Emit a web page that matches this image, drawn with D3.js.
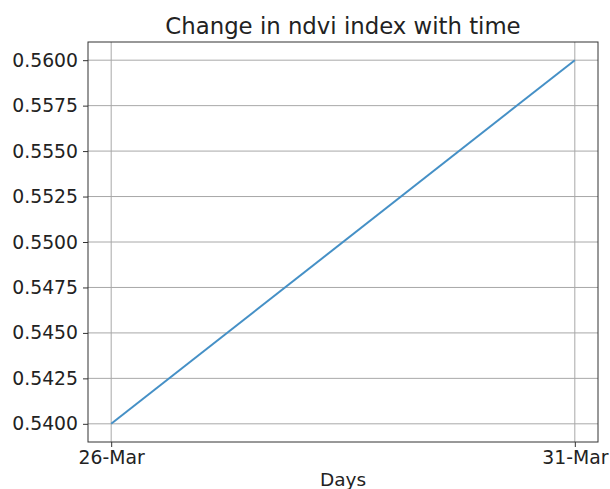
<!DOCTYPE html>
<html>
<head>
<meta charset="utf-8">
<script src="https://cdn.jsdelivr.net/npm/d3@7"></script>
<style>
  body { margin: 0; background: #fff; }
  text { font-family: "DejaVu Sans", sans-serif; fill: #222; }
</style>
</head>
<body>
<svg id="chart" width="610" height="489"></svg>
<script>
const days = ["26-Mar", "31-Mar"];
const dayIndex = [0, 5];
const ndvi = [0.54, 0.56];
const yTicks = [0.5400, 0.5425, 0.5450, 0.5475, 0.5500, 0.5525, 0.5550, 0.5575, 0.5600];

const width = 610, height = 489;
const margin = { top: 42, right: 12, bottom: 47, left: 88 };

const svg = d3.select("#chart");

// matplotlib style 5% padding around the data
const xPad = (dayIndex[1] - dayIndex[0]) * 0.05;
const yPad = (d3.max(ndvi) - d3.min(ndvi)) * 0.05;

const x = d3.scaleLinear()
  .domain([dayIndex[0] - xPad, dayIndex[1] + xPad])
  .range([margin.left, width - margin.right]);

const y = d3.scaleLinear()
  .domain([d3.min(ndvi) - yPad, d3.max(ndvi) + yPad])
  .range([height - margin.bottom, margin.top]);

const g = svg.append("g");

// grid
g.append("g")
  .attr("stroke", "#a8a8a8")
  .attr("stroke-width", 1)
  .selectAll("line.h")
  .data(yTicks)
  .join("line")
  .attr("x1", margin.left).attr("x2", width - margin.right)
  .attr("y1", d => y(d)).attr("y2", d => y(d));

g.append("g")
  .attr("stroke", "#a8a8a8")
  .attr("stroke-width", 1)
  .selectAll("line.v")
  .data(dayIndex)
  .join("line")
  .attr("y1", margin.top).attr("y2", height - margin.bottom)
  .attr("x1", d => x(d)).attr("x2", d => x(d));

// line
const pts = dayIndex.map((d, i) => [d, ndvi[i]]);
g.append("path")
  .datum(pts)
  .attr("fill", "none")
  .attr("stroke", "#4590c6")
  .attr("stroke-width", 2)
  .attr("d", d3.line().x(d => x(d[0])).y(d => y(d[1])));

// axes
const yAxis = d3.axisLeft(y).tickValues(yTicks).tickFormat(d3.format(".4f")).tickSize(5).tickPadding(5);
const xAxis = d3.axisBottom(x).tickValues(dayIndex).tickFormat((d, i) => days[i]).tickSize(5).tickPadding(4);

const ya = svg.append("g")
  .attr("transform", `translate(${margin.left},0)`)
  .call(yAxis);
const xa = svg.append("g")
  .attr("transform", `translate(0,${height - margin.bottom})`)
  .call(xAxis);

[ya, xa].forEach(a => {
  a.select(".domain").remove();
  a.selectAll(".tick line").attr("stroke", "#333").attr("stroke-width", 1);
  a.selectAll(".tick text").attr("font-size", 18.8).attr("fill", "#222").style("font-family", "DejaVu Sans, sans-serif");
});

// frame
svg.append("rect")
  .attr("x", margin.left).attr("y", margin.top)
  .attr("width", width - margin.left - margin.right)
  .attr("height", height - margin.top - margin.bottom)
  .attr("fill", "none")
  .attr("stroke", "#333")
  .attr("stroke-width", 1);

// title and label
svg.append("text")
  .attr("x", (margin.left + width - margin.right) / 2)
  .attr("y", 34)
  .attr("text-anchor", "middle")
  .attr("font-size", 22.8)
  .text("Change in ndvi index with time");

svg.append("text")
  .attr("x", (margin.left + width - margin.right) / 2)
  .attr("y", 486)
  .attr("text-anchor", "middle")
  .attr("font-size", 18.5)
  .text("Days");
</script>
</body>
</html>
